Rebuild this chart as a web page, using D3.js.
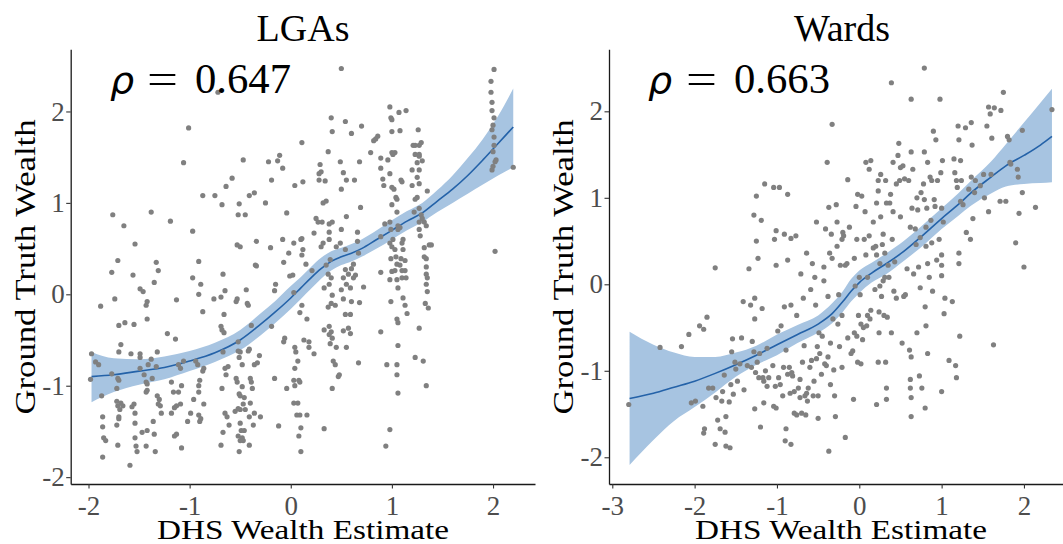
<!DOCTYPE html>
<html><head><meta charset="utf-8">
<script src="https://cdn.jsdelivr.net/npm/d3@7"></script>
<style>html,body{margin:0;padding:0;background:#fff;}svg{display:block;}</style>
</head><body>
<script>
// ---------------- DATA ----------------
const panelTitles = ["LGAs", "Wards"];
const rhoValues = ["0.647", "0.663"];
const xAxisTitle = "DHS Wealth Estimate";
const yAxisTitle = "Ground Truth Wealth";
const lgaXTicks = [-2, -1, 0, 1, 2];
const lgaYTicks = [-2, -1, 0, 1, 2];
const wardXTicks = [-3, -2, -1, 0, 1, 2];
const wardYTicks = [-2, -1, 0, 1, 2];

const lgaPoints = [
[-1.97,-0.65],[-1.98,-0.93],[-1.93,-0.74],[-1.90,-0.77],[-1.88,-0.13],[-1.87,-1.11],[-1.86,-1.34],[-1.86,-1.45],[-1.85,-1.57],[-1.83,-1.60],[-1.86,-1.78],
[-1.76,0.87],[-1.77,0.24],[-1.74,-0.05],[-1.71,0.37],[-1.70,-0.34],[-1.65,0.75],[-1.68,-0.55],[-1.70,-0.94],[-1.72,-1.03],[-1.72,-1.17],[-1.71,-1.22],[-1.69,-1.26],[-1.72,-1.43],[-1.70,-1.36],[-1.71,-1.65],[-1.70,-0.63],[-1.71,-0.92],[-1.77,-0.87],[-1.64,-0.31],[-1.66,-1.22],[-1.68,-1.19],[-1.70,-1.34],
[-1.56,0.21],[-1.54,0.55],[-1.55,-0.33],[-1.58,-0.65],[-1.55,-1.20],[-1.57,-1.23],[-1.54,-1.30],[-1.54,-1.41],[-1.54,-1.57],[-1.53,-1.66],[-1.52,-1.72],[-1.59,-1.87],[-1.49,-0.65],
[-1.49,0.06],[-1.46,0.03],[-1.42,-0.08],[-1.43,-0.12],[-1.42,-0.27],[-1.49,-0.69],[-1.49,-0.81],[-1.45,-0.88],[-1.43,-0.96],[-1.42,-0.98],[-1.47,-1.51],[-1.42,-1.49],[-1.43,-1.66],[-1.38,-0.71],[-1.41,-0.77],[-1.42,-1.05],[-1.43,-1.07],
[-1.38,0.90],[-1.35,0.13],[-1.33,0.35],[-1.31,0.26],[-1.36,-1.39],[-1.35,-1.53],[-1.34,-1.72],[-1.37,-0.92],[-1.33,-0.79],[-1.32,-0.63],[-1.32,-1.11],[-1.31,-1.20],[-1.29,-1.22],[-1.30,-1.15],[-1.28,-1.30],
[-1.22,-0.43],[-1.19,0.80],[-1.13,-0.06],[-1.14,-0.49],[-1.18,-0.96],[-1.16,-1.07],[-1.11,-1.07],[-1.15,-1.24],[-1.13,-1.22],[-1.18,-1.30],[-1.09,-1.20],[-1.08,-1.00],[-1.13,-1.53],[-1.15,-1.55],[-1.08,-1.68],[-1.11,-0.77],[-1.09,-0.81],[-1.06,-0.73],[-1.06,1.44],[-1.01,1.82],
[-0.97,0.69],[-0.97,0.18],[-1.02,-1.39],[-0.99,-1.30],[-0.96,-1.15],[-0.94,-0.73],[-0.92,-0.77],[-0.91,-1.00],[-0.91,-1.07],[-0.91,-1.32],[-0.89,-1.36],[-0.90,-1.39],[-0.90,-0.94],[-0.87,-0.84],[-0.86,-1.20],[-0.91,0.36],[-0.89,0.11],[-0.91,0.00],[-0.87,-0.19],[-0.86,-0.81],[-0.87,1.08],
[-0.75,1.08],[-0.68,0.98],[-0.76,-0.05],[-0.69,-0.03],[-0.67,0.22],[-0.65,0.04],[-0.66,-0.22],[-0.69,-0.35],[-0.68,-0.39],[-0.66,-0.42],[-0.65,-0.81],[-0.64,-0.88],[-0.62,-0.79],[-0.67,-0.63],[-0.65,-1.30],[-0.67,-1.51],[-0.68,-1.03],[-0.63,-1.34],[-0.61,-1.43],[-0.69,-1.65],[-0.72,2.21],[-0.64,1.18],[-0.58,1.27],
[-0.53,-0.05],[-0.54,-0.08],[-0.52,-0.52],[-0.52,-0.62],[-0.51,-0.69],[-0.50,-0.63],[-0.54,-0.92],[-0.53,-0.96],[-0.55,-1.28],[-0.52,-1.25],[-0.50,-1.26],[-0.50,-1.41],[-0.52,-1.55],[-0.50,-1.60],[-0.51,-1.72],[-0.49,-1.49],[-0.48,-1.57],[-0.47,-1.60],[-0.51,-1.09],[-0.50,-1.11],[-0.48,-0.77],[-0.48,-1.01],[-0.46,-1.13],[-0.47,-1.20],[-0.46,-1.49],[-0.45,-1.26],[-0.53,0.54],[-0.50,0.52],[-0.51,0.99],[-0.52,0.87],[-0.45,0.87],[-0.47,1.47],[-0.44,0.05],[-0.43,-0.10],[-0.42,-0.12],
[-0.41,1.08],[-0.36,1.11],[-0.35,0.32],[-0.34,0.31],[-0.34,0.58],[-0.39,-0.34],[-0.41,-0.60],[-0.42,-0.62],[-0.40,-0.92],[-0.39,-0.96],[-0.38,-1.03],[-0.40,-1.19],[-0.41,-1.34],[-0.37,-1.43],[-0.41,-1.65],[-0.36,-1.30],[-0.33,-0.75],[-0.30,-1.34],[-0.31,-0.67],[-0.36,-0.77],
[-0.25,1.00],[-0.22,1.45],[-0.19,1.25],[-0.20,0.51],[-0.19,-0.35],[-0.16,0.04],[-0.15,0.11],[-0.16,-0.92],[-0.13,1.46],[-0.12,-1.44],[-0.11,1.52],[-0.08,1.38],[-0.08,0.60],[-0.07,0.35],[-0.06,-0.48],[-0.07,-0.52],[-0.04,0.89],[-0.04,-1.03],
[-0.02,0.45],[-0.01,0.20],[0.02,0.21],[0.03,0.02],[0.03,0.56],[0.04,1.19],[0.04,-0.58],[0.04,-0.81],[0.03,-0.94],[0.04,-1.00],[0.03,-1.19],[0.06,-1.32],[0.05,-0.63],[0.07,-0.73],[0.08,-0.94],[0.09,-0.96],[0.07,-1.19],[0.09,-1.32],[0.10,-1.46],[0.08,-1.55],[0.10,-1.72],[0.10,0.60],[0.11,0.61],[0.11,0.43],[0.12,0.49],[0.11,1.66],[0.12,1.23],[0.09,-0.20],[0.11,-0.12],
[0.13,-0.50],[0.15,0.33],[0.16,-0.27],[0.18,-0.52],[0.16,-1.32],[0.18,-0.58],[0.23,-0.65],[0.23,0.67],[0.21,0.26],[0.25,0.83],[0.27,0.79],[0.28,1.32],[0.29,1.42],[0.30,1.34],[0.28,1.25],[0.31,0.79],[0.32,0.56],[0.30,0.52],
[0.32,1.00],[0.35,1.02],[0.34,1.24],[0.37,1.56],[0.40,1.93],[0.41,1.78],[0.38,0.77],[0.41,0.79],[0.38,0.68],[0.38,0.60],[0.39,0.38],[0.35,0.32],[0.37,0.22],[0.40,0.18],[0.38,0.11],[0.33,0.07],[0.41,-0.01],[0.40,-0.10],[0.44,-0.12],[0.37,-0.14],[0.38,-0.35],[0.40,-0.41],[0.38,-0.44],[0.41,-0.48],[0.39,-0.54],[0.42,-0.73],[0.44,-0.77],[0.41,-1.03],[0.47,-0.90],[0.48,-0.88],[0.45,-0.58],[0.33,-0.39],[0.33,-1.47],[0.45,0.52],[0.49,0.56],[0.50,0.71],
[0.50,2.47],[0.49,1.45],[0.52,1.33],[0.50,1.15],[0.55,1.25],[0.55,0.85],[0.54,0.49],[0.54,0.27],[0.52,0.18],[0.55,0.11],[0.50,0.05],[0.52,-0.05],[0.54,-0.22],[0.52,-0.40],[0.55,-0.58],[0.57,0.22],[0.59,0.07],[0.60,0.28],[0.62,0.33],[0.60,-0.08],[0.59,-0.43],[0.57,-0.37],[0.59,-0.22],[0.54,1.89],[0.60,1.76],[0.63,1.25],[0.66,0.68],[0.66,0.58],[0.67,0.45],[0.67,-0.75],[0.64,0.21],[0.62,0.18],[0.68,-0.09],[0.69,0.95],[0.70,1.84],[0.68,1.45],
[0.72,0.08],[0.79,1.55],[0.82,1.68],[0.84,1.70],[0.86,1.73],[0.89,1.38],[0.89,1.49],[0.89,0.63],[0.89,0.24],[0.89,-0.41],[0.91,1.26],[0.92,1.19],[0.93,0.77],[0.95,-0.77],
[0.94,-1.66],[0.96,1.47],[0.98,2.05],[0.98,-1.48],[0.99,1.93],[1.00,1.78],[1.00,1.91],[1.00,1.55],[0.98,1.32],[1.00,1.17],[1.00,0.98],[0.98,0.79],[0.99,0.71],[1.01,0.60],[0.98,0.56],[1.00,0.52],[0.99,0.39],[1.00,0.25],[0.98,0.16],[0.99,-0.08],[1.01,1.53],[1.03,1.55],[1.02,1.15],[1.04,1.06],[1.05,1.04],[1.05,0.90],[1.06,0.75],[1.06,0.71],[1.03,0.49],[1.04,0.41],[1.05,0.33],[1.03,0.26],[1.05,0.16],[1.06,0.07],[1.05,-0.27],[1.06,-0.31],[1.05,-0.77],[1.05,-0.88],[1.06,-1.08],[1.06,-0.56],[1.07,1.99],[1.08,1.79],[1.09,1.25],[1.10,1.23],
[1.08,0.73],[1.11,0.60],[1.10,0.56],[1.11,0.49],[1.09,0.39],[1.08,0.32],[1.10,0.26],[1.10,0.18],[1.13,0.37],[1.13,0.26],[1.14,0.18],[1.11,-0.04],[1.13,-0.12],[1.15,-0.21],[1.14,2.01],[1.20,1.19],[1.20,1.36],[1.21,1.63],[1.22,0.90],[1.23,1.63],[1.23,1.53],[1.23,1.04],
[1.25,1.44],[1.26,1.80],[1.27,1.63],[1.27,1.53],[1.27,1.51],[1.27,1.36],[1.25,1.28],[1.27,1.21],[1.25,1.06],[1.27,0.94],[1.27,0.79],[1.27,0.71],[1.28,0.64],[1.29,0.87],[1.30,0.83],[1.32,0.79],[1.34,0.75],[1.35,1.13],[1.37,0.54],[1.29,1.66],[1.30,1.46],[1.23,-0.69],[1.27,-0.37],[1.31,-0.73],[1.32,0.51],[1.32,0.41],[1.34,0.39],[1.34,0.30],[1.34,0.22],[1.35,0.18],[1.34,0.11],[1.35,0.03],[1.33,-0.10],[1.36,-0.15],[1.34,-1.00],[1.39,0.54],
[2.01,2.46],[1.98,2.33],[1.98,2.21],[1.99,2.10],[1.99,2.01],[2.01,1.93],[2.00,1.85],[1.99,1.80],[2.01,1.72],[2.01,1.63],[2.00,1.56],[2.02,1.45],[2.00,1.40],[2.03,1.47],[1.99,1.36],[2.02,0.47],[2.20,1.39]
];

const wardPoints = [
[-2.80,-1.39],[-2.42,-0.73],[-2.16,-0.72],[-2.07,-0.58],[-2.04,-1.37],[-1.99,-1.35],[-1.94,-0.48],[-1.89,-0.52],[-1.90,-1.41],[-1.88,-1.67],[-1.89,-1.72],[-1.85,-0.38],[-1.83,-1.20],[-1.78,-1.20],[-1.75,0.19],[-1.75,-1.85],[-1.74,-1.31],[-1.72,-1.57],[-1.69,-1.67],[-1.67,-1.35],[-1.66,-1.24],[-1.64,-1.05],[-1.63,-1.71],[-1.62,-1.53],[-1.62,-1.87],[-1.58,-1.36],[-1.57,-1.89],[-1.56,-1.16],[-1.55,-0.78],[-1.54,-0.63],[-1.53,-1.27],[-1.51,-0.90],[-1.50,-0.98],[-1.48,-1.12],[-1.45,-0.92],[-1.43,-0.62],[-1.41,-0.20],[-1.40,-1.22],[-1.36,-0.94],[-1.34,0.18],[-1.32,-0.24],[-1.31,-0.96],[-1.30,-0.66],[-1.28,-0.78],[-1.28,0.80],[-1.27,-0.16],[-1.27,-0.40],[-1.26,-1.02],[-1.27,-1.44],[-1.25,1.02],[-1.25,0.50],[-1.23,0.30],[-1.24,-0.90],[-1.22,-1.08],[-1.21,-0.80],[-1.20,-1.65],[-1.19,0.74],[-1.18,-0.28],[-1.17,-1.08],[-1.16,-1.37],[-1.16,-1.12],[-1.15,1.16],[-1.14,-1.00],[-1.12,-1.18],[-1.12,-0.74],[-1.10,-1.08],
[-1.05,-0.94],[-1.04,1.12],[-1.04,-1.41],[-1.03,0.52],[-1.02,-1.18],[-1.01,0.22],[-1.01,0.62],[-1.01,-1.43],[-0.99,-0.54],[-0.98,-1.08],[-0.97,1.12],[-0.96,-1.16],[-0.95,-0.48],[-0.93,-1.29],[-0.92,-0.96],[-0.91,0.58],[-0.91,-0.26],[-0.90,-1.81],[-0.89,-1.67],[-0.89,-0.76],[-0.87,1.04],[-0.87,0.28],[-0.87,-1.04],[-0.85,-0.96],[-0.84,-1.26],[-0.83,-1.85],[-0.83,0.53],[-0.83,-0.24],[-0.82,-1.02],[-0.81,-1.06],[-0.79,-1.24],[-0.79,-1.49],[-0.77,0.56],[-0.76,-0.36],[-0.76,-1.51],[-0.74,-1.20],[-0.72,-1.10],[-0.72,-1.31],[-0.71,0.12],[-0.70,-1.49],[-0.69,-0.90],[-0.68,-0.16],[-0.67,-0.71],[-0.66,-1.29],[-0.65,-1.51],[-0.64,0.36],[-0.64,-1.26],[-0.63,-1.35],[-0.62,-1.20],[-0.60,-0.96],[-0.59,-0.06],[-0.58,-0.88],[-0.57,0.24],[-0.56,-1.29],[-0.55,-1.12],[-0.54,0.08],[-0.53,-0.24],[-0.52,0.72],[-0.52,-0.86],[-0.51,-0.72],[-0.50,-1.55],[-0.50,-1.29],[-0.49,-0.56],[-0.48,-0.80],[-0.46,-1.04],[-0.45,-0.60],[-0.43,0.20],[-0.43,0.04],[-0.42,-0.92],[-0.41,0.64],[-0.40,-0.94],[-0.39,1.41],[-0.38,-0.14],[-0.38,-0.84],[-0.37,0.89],[-0.37,-1.93],[-0.36,0.36],[-0.35,-0.68],[-0.35,-1.16],[-0.34,0.58],[-0.33,0.30],[-0.33,1.85],[-0.32,-0.40],[-0.31,-0.99],[-0.30,-1.29],[-0.29,-1.53],[-0.28,0.92],[-0.27,0.72],[-0.27,0.44],[-0.26,-0.46],[-0.25,-0.12],[-0.24,-0.72],[-0.23,0.22],[-0.21,0.52],[-0.21,-0.96],[-0.21,-0.36],[-0.20,0.60],[-0.19,0.56],[-0.17,0.22],[-0.17,-1.77],[-0.15,0.24],[-0.14,1.21],[-0.14,-0.62],[-0.12,0.66],[-0.10,-0.80],[-0.08,-0.77],[-0.07,-1.33],[-0.06,-0.56],[-0.06,0.30],[-0.05,-0.02],[-0.04,0.90],[-0.03,-0.60],[-0.03,0.52],[-0.02,-0.90],[-0.02,1.04],[-0.01,-0.36],
[0.00,0.08],[0.01,-0.12],[0.02,-0.92],[0.02,-0.46],[0.03,1.02],[0.04,-0.64],[0.05,-0.50],[0.06,0.52],[0.07,0.84],[0.08,1.41],[0.08,0.34],[0.09,-0.48],[0.10,0.08],[0.10,-0.36],[0.12,0.56],[0.12,1.33],[0.13,-0.40],[0.14,1.43],[0.14,-0.30],[0.17,0.42],[0.17,0.72],[0.19,-0.06],[0.20,0.44],[0.21,-1.39],[0.21,0.94],[0.21,0.34],[0.23,1.08],[0.23,1.20],[0.23,-0.90],[0.24,-0.56],[0.24,-0.32],[0.25,-0.02],[0.25,0.24],[0.26,0.78],[0.26,1.27],[0.27,-0.14],[0.28,0.46],[0.29,0.04],[0.29,0.58],[0.30,-0.36],[0.31,0.36],[0.31,0.08],[0.32,-0.90],[0.32,1.20],[0.33,-1.33],[0.33,-1.20],[0.33,0.94],[0.34,-0.38],[0.35,0.22],[0.36,0.08],[0.37,0.94],[0.38,1.04],[0.39,2.33],[0.39,-0.56],[0.40,0.52],[0.41,1.41],[0.41,0.84],[0.42,-0.08],[0.43,0.26],[0.45,1.16],[0.45,-0.16],[0.47,1.49],[0.48,1.63],[0.49,1.20],[0.50,0.78],[0.50,1.35],[0.52,-0.68],[0.53,1.37],[0.54,-0.14],[0.55,1.22],[0.56,-0.12],[0.58,0.18],[0.60,1.20],[0.61,-0.76],[0.62,-1.10],[0.62,-1.20],[0.62,0.66],[0.63,1.53],[0.63,2.14],[0.63,-0.84],[0.63,-1.31],[0.63,-1.53],[0.64,0.88],[0.65,1.33],[0.66,0.12],[0.68,0.64],[0.69,0.46],[0.70,1.00],[0.70,-0.56],[0.71,0.86],[0.72,0.20],[0.73,-1.06],[0.74,-0.04],[0.74,0.54],[0.75,1.06],[0.76,-1.20],[0.78,1.16],[0.79,1.53],[0.79,2.50],[0.79,0.98],[0.80,-0.26],[0.80,-1.43],[0.81,-0.48],[0.81,0.66],[0.81,0.44],[0.82,0.88],[0.83,1.41],[0.83,-0.80],[0.83,0.24],[0.85,0.08],[0.86,1.24],[0.87,0.74],[0.88,1.20],[0.88,0.48],[0.89,-0.08],[0.90,1.77],[0.91,0.98],[0.92,0.90],[0.93,1.67],[0.94,0.28],[0.95,1.20],[0.97,0.52],[0.98,2.14],[0.99,1.29],[1.00,0.88],[1.00,0.34],[1.00,0.22],[1.00,0.10],[1.00,-1.24],[1.01,1.43],[1.02,0.72],[1.03,-0.34],[1.04,-0.16],
[1.09,-0.88],[1.13,-0.20],[1.15,1.45],[1.16,1.29],[1.17,-0.94],[1.18,-1.08],[1.18,1.20],[1.19,1.12],[1.20,1.83],[1.21,1.67],[1.21,0.24],[1.21,0.36],[1.22,-0.60],[1.23,0.96],[1.23,1.43],[1.24,1.20],[1.26,0.92],[1.29,1.81],[1.30,0.60],[1.33,1.10],[1.35,0.52],[1.36,1.24],[1.36,1.87],[1.37,1.61],[1.38,0.76],[1.40,1.06],[1.41,1.20],[1.47,1.14],[1.51,1.27],[1.52,1.00],[1.55,1.83],[1.57,2.05],[1.57,0.84],[1.59,1.97],[1.60,1.27],[1.61,1.69],[1.63,-0.70],[1.64,2.04],[1.71,0.96],[1.72,2.01],[1.75,2.22],[1.78,0.96],[1.80,1.71],[1.82,1.67],[1.83,1.41],[1.84,1.39],[1.90,0.48],[1.92,1.33],[1.93,1.24],[1.94,0.82],[1.98,1.06],[1.98,1.78],[2.00,0.20],[2.14,0.89],[2.34,2.02]
];

// loess fit: x, fit, lower, upper
const lgaSmoothX  = [-1.97,-1.75,-1.5,-1.25,-1.0,-0.75,-0.5,-0.3,-0.15,0,0.1,0.2,0.3,0.4,0.5,0.6,0.7,0.85,1.0,1.15,1.3,1.45,1.6,1.75,1.9,2.05,2.2];
const lgaSmoothY  = [-0.90,-0.88,-0.84,-0.80,-0.73,-0.64,-0.50,-0.33,-0.19,-0.04,0.07,0.18,0.28,0.36,0.41,0.45,0.50,0.60,0.70,0.80,0.89,1.02,1.15,1.30,1.47,1.65,1.83];
const lgaSmoothLo = [-1.18,-1.07,-0.99,-0.93,-0.84,-0.74,-0.61,-0.45,-0.31,-0.16,-0.05,0.06,0.17,0.26,0.32,0.36,0.41,0.50,0.60,0.70,0.79,0.90,1.00,1.10,1.20,1.30,1.39];
const lgaSmoothHi = [-0.63,-0.70,-0.71,-0.68,-0.62,-0.53,-0.39,-0.21,-0.07,0.09,0.19,0.30,0.40,0.47,0.51,0.55,0.60,0.70,0.81,0.91,1.00,1.14,1.30,1.49,1.70,1.95,2.25];

const wardSmoothX  = [-2.79,-2.5,-2.25,-2.0,-1.75,-1.5,-1.25,-1.0,-0.75,-0.5,-0.33,-0.2,-0.1,0,0.15,0.33,0.54,0.74,1.0,1.2,1.36,1.6,1.78,2.0,2.2,2.34];
const wardSmoothY  = [-1.32,-1.26,-1.19,-1.12,-1.03,-0.93,-0.82,-0.70,-0.58,-0.46,-0.34,-0.20,-0.08,0.02,0.13,0.24,0.38,0.54,0.76,0.92,1.06,1.24,1.37,1.49,1.61,1.71];
const wardSmoothLo = [-2.09,-1.80,-1.58,-1.42,-1.25,-1.07,-0.93,-0.82,-0.68,-0.56,-0.45,-0.32,-0.20,-0.10,0.02,0.12,0.27,0.42,0.64,0.79,0.91,1.05,1.13,1.16,1.17,1.18];
const wardSmoothHi = [-0.55,-0.70,-0.79,-0.84,-0.84,-0.79,-0.71,-0.58,-0.47,-0.36,-0.22,-0.08,0.06,0.16,0.25,0.36,0.50,0.66,0.88,1.05,1.20,1.42,1.62,1.87,2.10,2.26];

// ---------------- LAYOUT ----------------
const W = 1063, H = 544;
const FONT = "'Liberation Serif', 'Times New Roman', serif";
const svg = d3.select("body").append("svg").attr("width", W).attr("height", H)
  .style("background", "#fff");

const panels = [
  { title: panelTitles[0], rho: rhoValues[0], points: lgaPoints,
    sx: lgaSmoothX, sy: lgaSmoothY, slo: lgaSmoothLo, shi: lgaSmoothHi,
    xTicks: lgaXTicks, yTicks: lgaYTicks,
    xDomain: [-2.176, 2.415], yDomain: [-2.075, 2.68],
    left: 70.7, right: 535, titleX: 303, yTitleX: 34.5, xTitleX: 303, rhoX: [110, 147, 195] },
  { title: panelTitles[1], rho: rhoValues[1], points: wardPoints,
    sx: wardSmoothX, sy: wardSmoothY, slo: wardSmoothLo, shi: wardSmoothHi,
    xTicks: wardXTicks, yTicks: wardYTicks,
    xDomain: [-3.04, 2.62], yDomain: [-2.309, 2.717],
    left: 609, right: 1075, titleX: 842, yTitleX: 573, xTitleX: 841, rhoX: [648, 686, 734] }
];
const plotTop = 49.3, plotBottom = 484;

panels.forEach(p => {
  const x = d3.scaleLinear().domain(p.xDomain).range([p.left, p.right]);
  const y = d3.scaleLinear().domain(p.yDomain).range([plotBottom, plotTop]);
  const g = svg.append("g");

  const smooth = p.sx.map((v, i) => ({ x: v, y: p.sy[i], lo: p.slo[i], hi: p.shi[i] }));
  g.append("path").datum(smooth)
    .attr("d", d3.area().curve(d3.curveMonotoneX).x(d => x(d.x)).y0(d => y(d.lo)).y1(d => y(d.hi)))
    .attr("fill", "#a7c4e1");
  g.append("path").datum(smooth)
    .attr("d", d3.line().curve(d3.curveMonotoneX).x(d => x(d.x)).y(d => y(d.y)))
    .attr("fill", "none").attr("stroke", "#2462a8").attr("stroke-width", 1.6);

  g.append("g").selectAll("circle").data(p.points).join("circle")
    .attr("cx", d => x(d[0])).attr("cy", d => y(d[1])).attr("r", 2.6)
    .attr("fill", "#808080");

  const xa = g.append("g").attr("transform", `translate(0,${plotBottom})`)
    .call(d3.axisBottom(x).tickValues(p.xTicks).tickFormat(d => String(d))
      .tickSize(4.5).tickSizeOuter(0).tickPadding(7));
  const ya = g.append("g").attr("transform", `translate(${p.left},0)`)
    .call(d3.axisLeft(y).tickValues(p.yTicks).tickFormat(d => String(d))
      .tickSize(4.5).tickSizeOuter(0).tickPadding(1.5));
  [xa, ya].forEach(a => {
    a.select(".domain").attr("stroke", "#1a1a1a").attr("stroke-width", 1.3);
    a.selectAll(".tick line").attr("stroke", "#333").attr("stroke-width", 1.1);
    a.selectAll(".tick text").attr("fill", "#4d4d4d")
      .style("font-family", FONT).style("font-size", "27px");
  });

  svg.append("text").attr("x", p.titleX).attr("y", 41).attr("text-anchor", "middle")
    .style("font-family", FONT).style("font-size", "38px").attr("fill", "#000")
    .text(p.title);

  svg.append("text").attr("x", p.rhoX[0]).attr("y", 92.5)
    .style("font-family", "'DejaVu Sans', sans-serif").style("font-style", "italic")
    .style("font-size", "38px").attr("fill", "#000").text("ρ");
  svg.append("text").attr("x", p.rhoX[1]).attr("y", 92.5)
    .style("font-family", FONT).style("font-size", "42px").attr("fill", "#000")
    .attr("textLength", 31).attr("lengthAdjust", "spacingAndGlyphs").text("=");
  svg.append("text").attr("x", p.rhoX[2]).attr("y", 92.5)
    .style("font-family", FONT).style("font-size", "42px").attr("fill", "#000")
    .attr("textLength", 96).attr("lengthAdjust", "spacingAndGlyphs").text(p.rho);

  svg.append("text").attr("transform", `translate(${p.yTitleX},267) rotate(-90)`)
    .attr("text-anchor", "middle").style("font-family", FONT).style("font-size", "29px")
    .attr("textLength", 295).attr("lengthAdjust", "spacingAndGlyphs")
    .attr("fill", "#000").text(yAxisTitle);

  svg.append("text").attr("x", p.xTitleX).attr("y", 539).attr("text-anchor", "middle")
    .style("font-family", FONT).style("font-size", "28px")
    .attr("textLength", 292).attr("lengthAdjust", "spacingAndGlyphs")
    .attr("fill", "#000").text(xAxisTitle);
});
</script>
</body></html>
